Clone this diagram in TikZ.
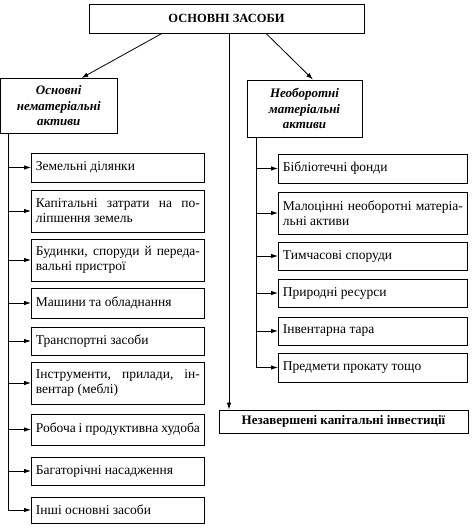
\documentclass[tikz,border=0pt]{standalone}
\usepackage{fontspec}
\setmainfont{Liberation Serif}
\usetikzlibrary{arrows.meta}
\tikzset{
  box/.style={draw, line width=0.8pt, inner xsep=4.5pt, inner ysep=2pt, anchor=west,
    align=justify, font=\fontsize{13.5}{15}\selectfont},
  head/.style={draw, line width=0.8pt, inner sep=2pt, align=center,
    font=\fontsize{13}{15.5}\selectfont\bfseries\itshape},
  arr/.style={-{Latex[length=7pt,width=4.5pt]}, line width=0.8pt}
}
\begin{document}
\begin{tikzpicture}[x=1pt,y=-1pt]
  \useasboundingbox (0,0) rectangle (475,528);
  \node[draw, line width=0.8pt, minimum width=275pt, minimum height=29pt,
    font=\fontsize{12.5}{15}\selectfont\bfseries] (top) at (226.5,18.5) {ОСНОВНІ ЗАСОБИ};
  \node[head, minimum width=116.5pt, minimum height=55pt] (Lh) at (58.75,106) {Основні\\нематеріальні\\активи};
  \node[head, minimum width=115pt, minimum height=57pt] (Rh) at (304.5,108.5) {Необоротні\\матеріальні\\активи};
  \node[draw, line width=0.8pt, minimum width=249pt, minimum height=23pt,
    font=\fontsize{13}{15}\selectfont\bfseries] (bot) at (343.5,421.5) {Незавершені капітальні інвестиції};
  \foreach \i/\y/\h/\t in {1/167.5/29/{Земельні ділянки},
      2/211/42/{Капітальні затрати на по-\linebreak ліпшення земель},
      3/260/42/{Будинки, споруди й переда-\linebreak вальні пристрої},
      4/303/30/{Машини та обладнання},
      5/341/28/{Транспортні засоби},
      6/383/42/{Інструменти, прилади, ін-\linebreak вентар (меблі)},
      7/429.5/31/{Робоча і продуктивна худоба},
      8/471/28/{Багаторічні насадження},
      9/510/26/{Інші основні засоби}}{
    \node[box, text width=164pt, minimum height=\h pt] (L\i) at (31,\y) {\t};
  }
  \foreach \i/\y/\h/\t in {1/168.5/29/{Бібліотечні фонди},
      2/213/42/{Малоцінні необоротні матеріа-\linebreak льні активи},
      3/256/28/{Тимчасові споруди},
      4/293/28/{Природні ресурси},
      5/331/28/{Інвентарна тара},
      6/367.5/29/{Предмети прокату тощо}}{
    \node[box, text width=180pt, minimum height=\h pt] (R\i) at (278,\y) {\t};
  }
  % from the top box
  \draw[arr] ([xshift=-64.5pt]top.south) -- ([xshift=22.5pt]Lh.north);
  \draw[arr] ([xshift=39.5pt]top.south) -- ([xshift=8.5pt]Rh.north);
  \coordinate (mid) at ([xshift=2.5pt]top.south);
  \draw[arr] (mid) -- (mid |- bot.north);
  % branches
  \coordinate (Ltr) at ([xshift=8pt]Lh.south west);
  \coordinate (Rtr) at ([xshift=10pt]Rh.south west);
  \draw[line width=0.8pt] (Ltr) -- (Ltr |- L9.west);
  \draw[line width=0.8pt] (Rtr) -- (Rtr |- R6.west);
  \foreach \i in {1,...,9}{
    \draw[arr] (Ltr |- L\i.west) -- (L\i.west);
  }
  \foreach \i in {1,...,6}{
    \draw[arr] (Rtr |- R\i.west) -- (R\i.west);
  }
\end{tikzpicture}
\end{document}
